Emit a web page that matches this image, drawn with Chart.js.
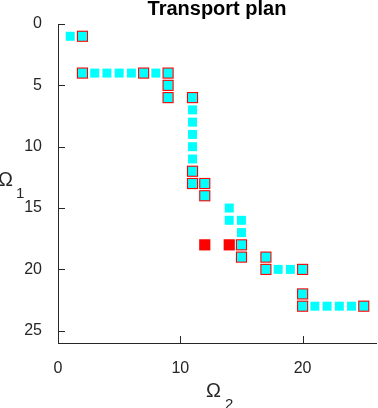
<!DOCTYPE html>
<html>
<head>
<meta charset="utf-8">
<script src="https://cdn.jsdelivr.net/npm/chart.js@4"></script>
<style>
  html, body { margin: 0; padding: 0; background: #fff; }
  #wrap { width: 378px; height: 408px; }
</style>
</head>
<body>
<div id="wrap"><canvas id="myChart"></canvas></div>
<script>
// large red squares (plan support)
const redX = [2, 2, 7, 9, 9, 9, 11, 11, 11, 12, 12, 12, 14, 15, 15, 17, 17, 20, 20, 20, 25];
const redY = [1, 4, 4, 4, 5, 6, 6, 12, 13, 13, 14, 18, 18, 18, 19, 19, 20, 20, 22, 23, 23];
// small cyan squares drawn on top
const cyanX = [1, 2, 2, 3, 4, 5, 6, 7, 8, 9, 9, 9, 11, 11, 11, 11, 11, 11, 11, 11, 12, 12,
               14, 14, 15, 15, 15, 15, 17, 17, 18, 19, 20, 20, 20, 21, 22, 23, 24, 25];
const cyanY = [1, 1, 4, 4, 4, 4, 4, 4, 4, 4, 5, 6, 6, 7, 8, 9, 10, 11, 12, 13, 13, 14,
               15, 16, 16, 17, 18, 19, 19, 20, 20, 20, 20, 22, 23, 23, 23, 23, 23, 23];
const xTicks = [0, 10, 20];
const yTicks = [0, 5, 10, 15, 20, 25];

const axisColor = '#262626';
const toPoints = (xs, ys) => xs.map((x, i) => ({x: x, y: ys[i]}));

// MATLAB-style ticks pointing into the plot, plus the Omega axis labels
const matlabAxes = {
    id: 'matlabAxes',
    afterDraw(chart) {
        const ctx = chart.ctx;
        const xs = chart.scales.x, ys = chart.scales.y;
        const area = chart.chartArea;
        ctx.save();
        ctx.strokeStyle = axisColor;
        ctx.lineWidth = 1;
        ctx.beginPath();
        xTicks.forEach(v => {
            const px = Math.round(xs.getPixelForValue(v)) + 0.5;
            ctx.moveTo(px, area.bottom);
            ctx.lineTo(px, area.bottom - 7);
        });
        yTicks.forEach(v => {
            const py = Math.round(ys.getPixelForValue(v)) + 0.5;
            ctx.moveTo(area.left, py);
            ctx.lineTo(area.left + 7, py);
        });
        ctx.stroke();

        ctx.fillStyle = axisColor;
        ctx.textBaseline = 'alphabetic';
        ctx.textAlign = 'left';
        ctx.font = '20px "Liberation Sans", Arial, sans-serif';
        ctx.fillText('Ω', 206, 397);
        ctx.fillText('Ω', -2, 186);
        ctx.font = '15px "Liberation Sans", Arial, sans-serif';
        ctx.fillText('2', 225, 409);
        ctx.fillText('1', 16, 198);
        ctx.restore();
    }
};

const ctx = document.getElementById('myChart').getContext('2d');

new Chart(ctx, {
    type: 'scatter',
    data: {
        datasets: [{
            label: 'cyan',
            data: toPoints(cyanX, cyanY),
            pointStyle: 'rect',
            pointRadius: 6.35,
            pointHoverRadius: 6.35,
            pointBackgroundColor: '#00ffff',
            pointBorderWidth: 0,
            order: 1
        }, {
            label: 'red',
            data: toPoints(redX, redY),
            pointStyle: 'rect',
            pointRadius: 7.9,
            pointHoverRadius: 7.9,
            pointBackgroundColor: '#ff0000',
            pointBorderWidth: 0,
            order: 2
        }]
    },
    options: {
        responsive: true,
        maintainAspectRatio: false,
        animation: false,
        events: [],
        layout: {
            autoPadding: false,
            padding: {left: 0, right: 2, top: 0, bottom: 0}
        },
        scales: {
            x: {
                type: 'linear',
                min: 0,
                max: 26,
                afterBuildTicks: s => { s.ticks = xTicks.map(v => ({value: v})); },
                afterFit: s => { s.height = 65; },
                grid: {display: false},
                border: {display: true, color: axisColor, width: 1},
                ticks: {
                    color: axisColor,
                    padding: 8,
                    maxRotation: 0,
                    font: {size: 16, family: '"Liberation Sans", Arial, sans-serif'}
                }
            },
            y: {
                type: 'linear',
                reverse: true,
                min: 0,
                max: 26,
                afterBuildTicks: s => { s.ticks = yTicks.map(v => ({value: v})); },
                afterFit: s => { s.width = 58; },
                grid: {display: false},
                border: {display: true, color: axisColor, width: 1},
                ticks: {
                    color: axisColor,
                    padding: 8,
                    font: {size: 16, family: '"Liberation Sans", Arial, sans-serif'}
                }
            }
        },
        plugins: {
            legend: {display: false},
            tooltip: {enabled: false},
            title: {
                display: true,
                text: 'Transport plan',
                fullSize: false,
                color: '#000',
                font: {size: 20, weight: 'bold', lineHeight: 0.8, family: '"Liberation Sans", Arial, sans-serif'},
                padding: {top: 1, bottom: 7}
            }
        }
    },
    plugins: [matlabAxes]
});
</script>
</body>
</html>
